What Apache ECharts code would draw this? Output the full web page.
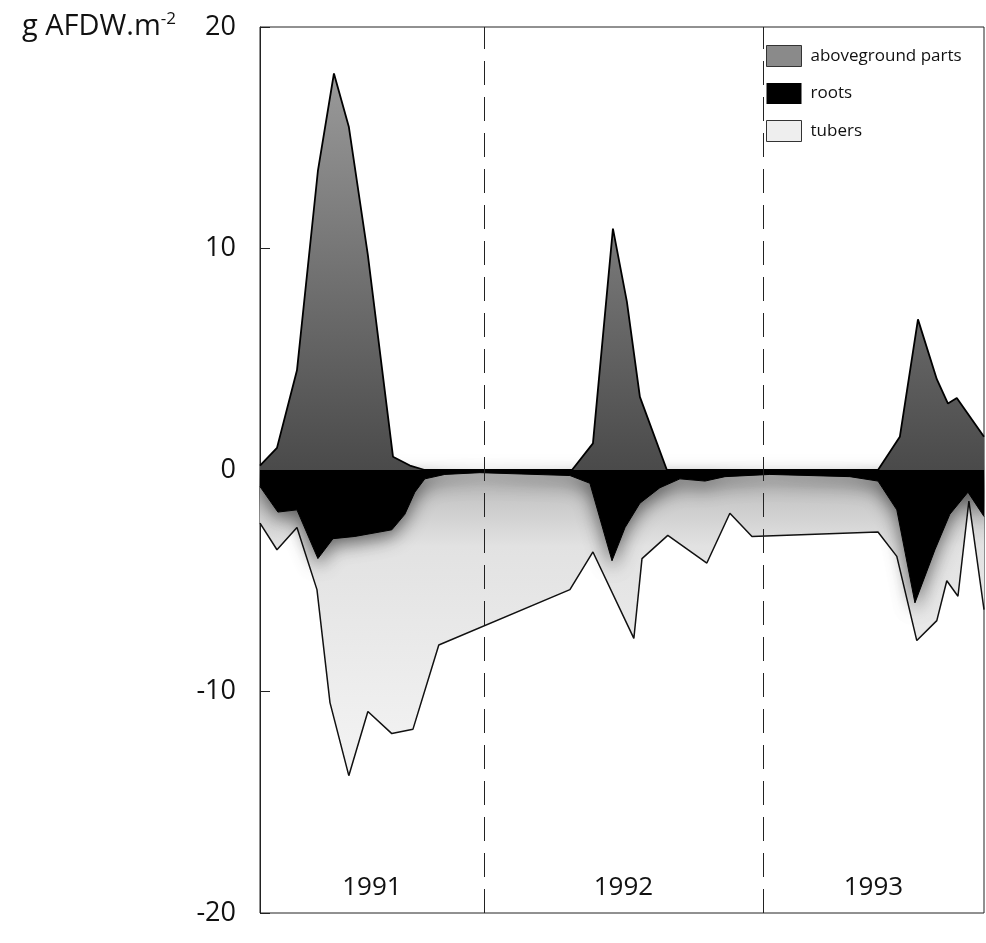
<!DOCTYPE html>
<html><head><meta charset="utf-8">
<script src="https://cdn.jsdelivr.net/npm/echarts/dist/echarts.min.js"></script>
<style>html,body{margin:0;padding:0;background:#fff}#c{width:986px;height:943px}</style>
</head><body><div id="c"></div>
<script>
// x values: months since 1 Jan 1991
const yearLabels = ['1991', '1992', '1993'];
const yearBounds = [2.37, 12, 24, 33.51];

// aboveground parts (positive, g AFDW per m2)
const agX = [2.37, 3.10, 3.96, 4.86, 5.55, 6.19, 7.01, 8.09, 8.82, 9.46, 15.79, 16.69, 17.55, 18.15, 18.71, 19.87, 28.95, 29.89, 30.67, 31.48, 31.96, 32.34, 33.51];
const agY = [0.2, 1.0, 4.5, 13.5, 17.9, 15.5, 9.7, 0.6, 0.2, 0, 0, 1.2, 10.9, 7.6, 3.3, 0, 0, 1.5, 6.8, 4.1, 3.0, 3.25, 1.5];

// roots (negative)
const rootX = [2.37, 3.14, 3.96, 4.86, 5.51, 6.45, 8.04, 8.60, 9.03, 9.46, 10.32, 11.83, 15.70, 16.56, 17.51, 18.07, 18.71, 19.57, 20.43, 21.51, 22.37, 24.30, 27.74, 28.95, 29.76, 30.54, 31.40, 32.04, 32.82, 33.51];
const rootY = [-0.75, -1.9, -1.8, -4.0, -3.1, -3.0, -2.7, -2.0, -1.0, -0.4, -0.2, -0.12, -0.25, -0.6, -4.1, -2.6, -1.5, -0.8, -0.4, -0.5, -0.3, -0.2, -0.3, -0.5, -1.8, -6.0, -3.6, -2.0, -1.0, -2.1];

// tubers (lower outline, roots + tubers)
const tubX = [2.37, 3.10, 3.96, 4.82, 5.38, 6.19, 7.01, 8.04, 8.95, 10.06, 15.70, 16.69, 18.45, 18.80, 19.91, 21.59, 22.58, 23.53, 28.95, 29.76, 30.62, 31.48, 31.91, 32.39, 32.86, 33.51];
const tubY = [-2.4, -3.6, -2.6, -5.4, -10.5, -13.8, -10.9, -11.9, -11.7, -7.9, -5.4, -3.7, -7.6, -4.0, -2.95, -4.2, -1.95, -3.0, -2.8, -3.9, -7.7, -6.8, -5.0, -5.7, -1.4, -6.3];

const zip = (xs, ys) => xs.map((x, i) => [x, ys[i]]);
const FONT = 'Open Sans';

const chart = echarts.init(document.getElementById('c'), null, {renderer: 'canvas'});
chart.setOption({
  animation: false,
  backgroundColor: '#fff',
  grid: {left: 260, right: 2, top: 27, bottom: 30, show: true, borderColor: '#222', borderWidth: 1},
  legend: {
    orient: 'vertical', left: 761, top: 40, itemWidth: 35, itemHeight: 21, itemGap: 16,
    icon: 'rect', selectedMode: false,
    textStyle: {fontSize: 17, fontFamily: FONT, color: '#111', padding: [0, 0, 0, 4]},
    data: [
      {name: 'aboveground parts', itemStyle: {color: '#8a8a8a', borderColor: '#333', borderWidth: 1}},
      {name: 'roots', itemStyle: {color: '#000'}},
      {name: 'tubers', itemStyle: {color: '#eeeeee', borderColor: '#333', borderWidth: 1}}
    ]
  },
  xAxis: {
    type: 'value', min: yearBounds[0], max: yearBounds[yearBounds.length - 1],
    axisLine: {show: false}, axisTick: {show: false}, axisLabel: {show: false}, splitLine: {show: false}
  },
  yAxis: {
    type: 'value', min: -20, max: 20, interval: 10,
    name: 'g AFDW.m{s|-2}', nameLocation: 'end', nameGap: 0,
    nameTextStyle: {
      fontSize: 29, fontFamily: FONT, color: '#111', align: 'right', verticalAlign: 'middle',
      padding: [0, 84, 0, 0],
      rich: {s: {fontSize: 17, fontFamily: FONT, color: '#111', verticalAlign: 'top', padding: [0, 0, 16, 0]}}
    },
    axisLine: {show: true, lineStyle: {color: '#222', width: 1}},
    axisTick: {show: true, inside: true, length: 10, lineStyle: {color: '#222'}},
    axisLabel: {fontSize: 27, fontFamily: FONT, color: '#111', margin: 24},
    splitLine: {show: false}
  },
  series: [
    {
      name: 'tubers', type: 'line', data: zip(tubX, tubY), symbol: 'none', z: 1,
      itemStyle: {color: '#eeeeee'},
      lineStyle: {color: '#111', width: 1.5},
      areaStyle: {
        opacity: 1,
        color: new echarts.graphic.LinearGradient(0, 0, 0, 1, [
          {offset: 0, color: '#b8b8b8'}, {offset: 0.25, color: '#e2e2e2'}, {offset: 1, color: '#f4f4f4'}
        ])
      }
    },
    {
      name: 'roots', type: 'line', data: zip(rootX, rootY), symbol: 'none', z: 2,
      itemStyle: {color: '#000'},
      lineStyle: {color: '#000', width: 1, shadowBlur: 18, shadowColor: 'rgba(0,0,0,0.55)', shadowOffsetY: 6},
      areaStyle: {color: '#000', opacity: 1, shadowBlur: 18, shadowColor: 'rgba(0,0,0,0.55)', shadowOffsetY: 6}
    },
    {
      name: 'aboveground parts', type: 'line', data: zip(agX, agY), symbol: 'none', z: 3,
      itemStyle: {color: '#8a8a8a'},
      lineStyle: {color: '#000', width: 1.8},
      areaStyle: {
        opacity: 1,
        color: new echarts.graphic.LinearGradient(0, 0, 0, 1, [
          {offset: 0, color: '#9a9a9a'}, {offset: 1, color: '#4a4a4a'}
        ])
      },
      markLine: {
        silent: true, symbol: 'none', label: {show: false},
        lineStyle: {type: [24, 12], color: '#222', width: 1},
        data: yearBounds.slice(1, -1).map(v => ({xAxis: v}))
      },
      markArea: {
        silent: true,
        itemStyle: {color: 'rgba(0,0,0,0)'},
        label: {show: true, position: 'insideBottom', distance: 12, fontSize: 26, fontFamily: FONT, color: '#111'},
        data: yearLabels.map((y, i) => [{xAxis: yearBounds[i], name: y}, {xAxis: yearBounds[i + 1]}])
      }
    }
  ]
});
</script>
</body></html>
